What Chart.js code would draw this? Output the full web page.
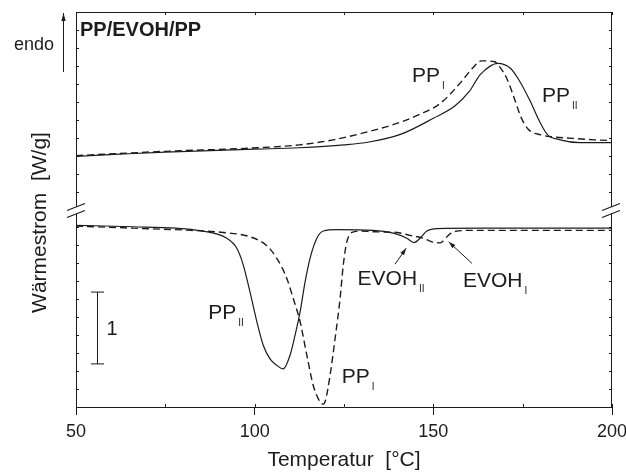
<!DOCTYPE html>
<html>
<head>
<meta charset="utf-8">
<script src="https://cdn.jsdelivr.net/npm/chart.js@4.4.1/dist/chart.umd.min.js"></script>
<style>
  html, body { margin: 0; padding: 0; background: #fff; }
</style>
</head>
<body>
<canvas id="dsc" width="626" height="474"></canvas>
<script>
// heating run (upper curves, endo up) - temperature in °C, heat flow in W/g (offset)
const heatTempII = [50, 62, 75, 87.5, 100, 112.5, 125, 132, 141, 150, 156, 160, 163, 166, 168, 171.5, 174, 177, 180, 182, 185.5, 191, 200];
const heatFlowII = [3.49, 3.52, 3.55, 3.57, 3.59, 3.61, 3.65, 3.69, 3.80, 4.02, 4.19, 4.39, 4.62, 4.75, 4.785, 4.72, 4.55, 4.27, 3.95, 3.79, 3.72, 3.68, 3.68];
const heatTempI = [50, 75, 99, 112.5, 122, 131.5, 140.5, 146, 152, 157.5, 161, 163.5, 167, 168.5, 170.5, 172.5, 174.5, 176.5, 180, 183.5, 189, 195, 200];
const heatFlowI = [3.50, 3.56, 3.605, 3.65, 3.72, 3.83, 3.96, 4.07, 4.23, 4.51, 4.72, 4.82, 4.81, 4.74, 4.58, 4.32, 4.04, 3.87, 3.79, 3.76, 3.74, 3.72, 3.71];

// cooling run (lower curves)
const coolTempII = [50, 66, 78, 84.7, 92.2, 95, 96.8, 98.7, 100.6, 102.4, 104.3, 106.2, 108, 109.9, 111.3, 112.7, 114.1, 115.5, 117.4, 119.2, 123, 133.2, 138.8, 142.6, 144.6, 146.3, 148.2, 151, 163, 200];
const coolFlowII = [2.53, 2.51, 2.49, 2.455, 2.35, 2.21, 1.98, 1.60, 1.19, 0.86, 0.67, 0.58, 0.53, 0.72, 1.00, 1.32, 1.74, 2.07, 2.35, 2.45, 2.47, 2.46, 2.42, 2.35, 2.29, 2.35, 2.45, 2.485, 2.49, 2.49];
const coolTempI = [50, 66, 82, 91.2, 98.7, 103.3, 106.2, 109, 110.8, 112.7, 114.6, 116.4, 118.3, 119.2, 119.8, 121.1, 122.5, 123.9, 124.8, 125.8, 127.2, 129.5, 133.2, 139.8, 143.5, 147.2, 149.6, 151.9, 153.8, 155.6, 161.2, 200];
const coolFlowI = [2.52, 2.49, 2.46, 2.43, 2.37, 2.25, 2.07, 1.79, 1.51, 1.19, 0.72, 0.30, 0.07, 0.04, 0.09, 0.44, 0.95, 1.51, 1.98, 2.30, 2.43, 2.45, 2.44, 2.43, 2.39, 2.35, 2.30, 2.285, 2.37, 2.44, 2.46, 2.46];

const tempTicks = [50, 100, 150, 200];
const minorTemps = [50, 75, 100, 125, 150, 175, 200];
const flowBreak = 2.75;   // where the y axis is broken
const scaleBar = [0.6, 1.6]; // 1 W/g

const FONT = '"Liberation Sans", Arial, Helvetica, sans-serif';
const INK = '#1c1c1c';

function pts(xs, ys) {
    return xs.map((x, i) => ({ x: x, y: ys[i] }));
}

function curve(label, xs, ys, dashed) {
    return {
        label: label,
        data: pts(xs, ys),
        borderColor: INK,
        borderWidth: dashed ? 1.4 : 1.2,
        borderDash: dashed ? [7, 4] : [],
        pointRadius: 0,
        cubicInterpolationMode: 'monotone',
        fill: false
    };
}

// little helper for "PP" + subscript labels
function subLabel(ctx, x, y, main, sub) {
    ctx.font = '21px ' + FONT;
    ctx.textAlign = 'left';
    ctx.textBaseline = 'alphabetic';
    ctx.fillText(main, x, y);
    const w = ctx.measureText(main).width;
    ctx.font = '10px ' + FONT;
    ctx.fillText(sub, x + w + 2, y + 7);
}

function arrow(ctx, x1, y1, x2, y2, head, width) {
    ctx.beginPath();
    ctx.moveTo(x1, y1);
    ctx.lineTo(x2, y2);
    ctx.stroke();
    const a = Math.atan2(y2 - y1, x2 - x1);
    ctx.beginPath();
    ctx.moveTo(x2, y2);
    ctx.lineTo(x2 - head * Math.cos(a) + width * Math.sin(a), y2 - head * Math.sin(a) - width * Math.cos(a));
    ctx.lineTo(x2 - head * Math.cos(a) - width * Math.sin(a), y2 - head * Math.sin(a) + width * Math.cos(a));
    ctx.closePath();
    ctx.fill();
}

const decorations = {
    id: 'decorations',
    afterDraw(chart) {
        const ctx = chart.ctx;
        const xs = chart.scales.x, ys = chart.scales.y;
        const a = chart.chartArea;
        ctx.save();
        ctx.strokeStyle = INK;
        ctx.fillStyle = INK;
        ctx.lineWidth = 1;

        // top and right frame
        ctx.beginPath();
        ctx.moveTo(a.left, a.top + 0.5);
        ctx.lineTo(a.right, a.top + 0.5);
        ctx.moveTo(a.right - 0.5, a.top);
        ctx.lineTo(a.right - 0.5, a.bottom);
        ctx.stroke();

        // inner ticks on x (bottom + top)
        ctx.beginPath();
        minorTemps.forEach(t => {
            const px = Math.round(xs.getPixelForValue(t)) + 0.5;
            ctx.moveTo(px, a.bottom);
            ctx.lineTo(px, a.bottom - 3);
            ctx.moveTo(px, a.top);
            ctx.lineTo(px, a.top + 3);
        });
        // inner ticks on y (left + right), skipping the break
        for (let v = 0.25; v < 5.5; v += 0.25) {
            if (Math.abs(v - flowBreak) < 0.01) continue;
            const py = Math.round(ys.getPixelForValue(v)) + 0.5;
            ctx.moveTo(a.left, py);
            ctx.lineTo(a.left + 3, py);
            ctx.moveTo(a.right, py);
            ctx.lineTo(a.right - 3, py);
        }
        ctx.stroke();

        // axis break marks
        const by = ys.getPixelForValue(flowBreak);
        ctx.lineWidth = 1.2;
        [a.left, a.right - 1].forEach(bx => {
            ctx.fillStyle = '#fff';
            ctx.beginPath();
            ctx.moveTo(bx - 9, by + 1);
            ctx.lineTo(bx + 9, by - 6);
            ctx.lineTo(bx + 9, by + 1);
            ctx.lineTo(bx - 9, by + 8);
            ctx.closePath();
            ctx.fill();
            ctx.beginPath();
            ctx.moveTo(bx - 9, by + 1);
            ctx.lineTo(bx + 9, by - 6);
            ctx.moveTo(bx - 9, by + 8);
            ctx.lineTo(bx + 9, by + 1);
            ctx.stroke();
        });
        ctx.fillStyle = INK;
        ctx.lineWidth = 1;

        // curve labels
        const P = (t, v) => [xs.getPixelForValue(t), ys.getPixelForValue(v)];
        [[144.0, 4.53, 'PP', 'I'], [180.4, 4.24, 'PP', 'II'],
         [87.0, 1.23, 'PP', 'II'], [124.4, 0.33, 'PP', 'I'],
         [128.8, 1.70, 'EVOH', 'II'], [158.3, 1.67, 'EVOH', 'I']].forEach(l => {
            const p = P(l[0], l[1]);
            subLabel(ctx, p[0], p[1], l[2], l[3]);
        });

        // arrows to the EVOH peaks
        let s = P(139.3, 1.99), e = P(142.4, 2.21);
        arrow(ctx, s[0], s[1], e[0], e[1], 7, 2.2);
        s = P(160.8, 2.0); e = P(154.3, 2.30);
        arrow(ctx, s[0], s[1], e[0], e[1], 7, 2.2);

        // scale bar "1 W/g"
        const b0 = P(55.8, scaleBar[0]), b1 = P(55.8, scaleBar[1]);
        const bx = Math.round(b0[0]) + 0.5;
        ctx.beginPath();
        ctx.moveTo(bx, b0[1]); ctx.lineTo(bx, b1[1]);
        ctx.moveTo(bx - 6.5, b0[1]); ctx.lineTo(bx + 6.5, b0[1]);
        ctx.moveTo(bx - 6.5, b1[1]); ctx.lineTo(bx + 6.5, b1[1]);
        ctx.stroke();
        ctx.font = '20px ' + FONT;
        ctx.textAlign = 'left';
        ctx.fillText('1', bx + 9, (b0[1] + b1[1]) / 2 + 7);

        // sample name
        ctx.font = 'bold 20px ' + FONT;
        ctx.fillText('PP/EVOH/PP', a.left + 4, a.top + 24);

        // endo arrow
        const ex = Math.round(a.left - 13) + 0.5;
        arrow(ctx, ex, a.top + 60, ex, a.top + 1, 8, 2.2);
        ctx.font = '18px ' + FONT;
        ctx.textAlign = 'right';
        ctx.fillText('endo', a.left - 22, a.top + 38);

        // y axis title
        ctx.translate(a.left - 35.5, (a.top + a.bottom) / 2 + 13);
        ctx.rotate(-Math.PI / 2);
        ctx.font = '21px ' + FONT;
        ctx.textAlign = 'center';
        ctx.textBaseline = 'middle';
        ctx.fillText('Wärmestrom  [W/g]', 0, 0);
        ctx.restore();
    }
};

new Chart(document.getElementById('dsc'), {
    type: 'line',
    data: {
        datasets: [
            curve('PP II heating', heatTempII, heatFlowII, false),
            curve('PP I heating', heatTempI, heatFlowI, true),
            curve('PP II cooling', coolTempII, coolFlowII, false),
            curve('PP I cooling', coolTempI, coolFlowI, true)
        ]
    },
    options: {
        responsive: false,
        animation: false,
        devicePixelRatio: 1,
        layout: { padding: { top: 12, right: 14, left: 0, bottom: 0 } },
        plugins: { legend: { display: false }, tooltip: { enabled: false } },
        scales: {
            x: {
                type: 'linear',
                min: 50,
                max: 200,
                afterBuildTicks: s => { s.ticks = tempTicks.map(v => ({ value: v })); },
                ticks: { color: INK, font: { family: FONT, size: 18 }, padding: 6, maxRotation: 0 },
                grid: { drawOnChartArea: false, drawTicks: true, tickLength: 8, color: INK, lineWidth: 1 },
                border: { display: true, color: INK, width: 1 },
                title: { display: true, text: 'Temperatur  [°C]', color: INK, font: { family: FONT, size: 21 }, padding: { top: 0, bottom: 1 } },
                afterFit: s => { s.height = 67; s.paddingLeft = 0; s.paddingRight = 0; }
            },
            y: {
                type: 'linear',
                min: 0,
                max: 5.5,
                ticks: { display: false, stepSize: 0.25 },
                grid: { display: false },
                border: { display: true, color: INK, width: 1 },
                afterFit: s => { s.width = 76; s.paddingTop = 0; s.paddingBottom = 0; }
            }
        }
    },
    plugins: [decorations]
});
</script>
</body>
</html>
